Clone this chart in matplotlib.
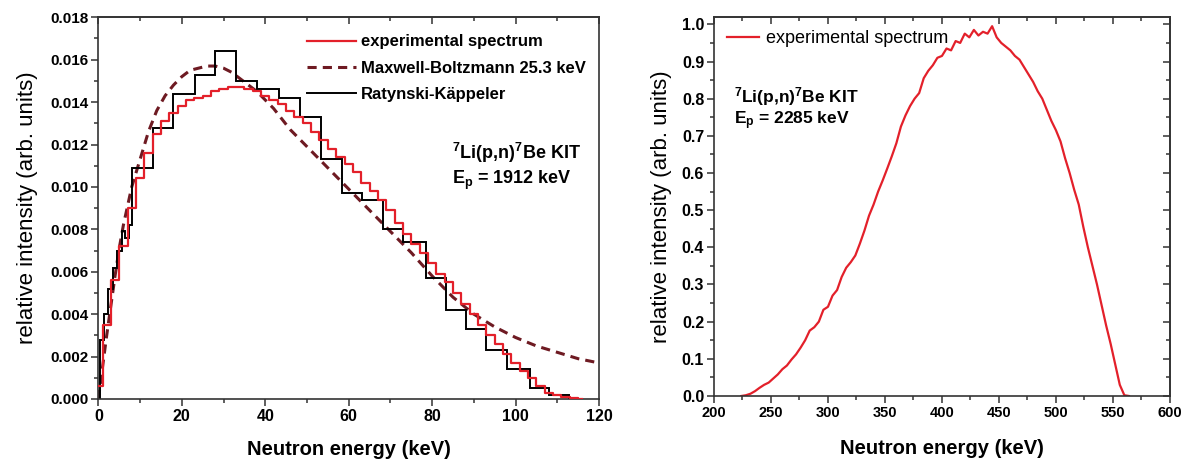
import matplotlib
matplotlib.use("Agg")
from matplotlib import pyplot as plt
from matplotlib.ticker import MultipleLocator, FormatStrFormatter
import matplotlib as mpl

mpl.rc('font', family='Liberation Sans', size=10.5, weight='bold')
mpl.rc('mathtext', fontset='custom', rm='Liberation Sans:bold', bf='Liberation Sans:bold', it='Liberation Sans:bold')
mpl.rc('axes', linewidth=1.2, edgecolor='#333333')

RED = '#e3202a'
DARKRED = '#6e1a22'

# ---- left panel: Ep = 1912 keV ----
exp_E = [0, 2, 4, 6, 8, 10, 12, 14, 16, 18, 20, 22, 24, 26, 28, 30, 32, 34, 36, 38,
         40, 42, 44, 46, 48, 50, 52, 54, 56, 58, 60, 62, 64, 66, 68, 70, 72, 74, 76, 78,
         80, 82, 84, 86, 88, 90, 92, 94, 96, 98, 100, 102, 104, 106, 108, 110, 112, 114, 116]
exp_I = [0.0006, 0.0035, 0.0056, 0.0072, 0.0090, 0.0104, 0.0116, 0.0125, 0.0131, 0.0135,
         0.0138, 0.0141, 0.0142, 0.0143, 0.0145, 0.0146, 0.0147, 0.0147, 0.0146, 0.0145,
         0.0143, 0.0141, 0.0139, 0.0136, 0.0133, 0.0130, 0.0126, 0.0122, 0.0118, 0.0114,
         0.0111, 0.0107, 0.0102, 0.0098, 0.0094, 0.0089, 0.0083, 0.0078, 0.0073, 0.0069,
         0.0064, 0.0059, 0.0055, 0.0050, 0.0045, 0.0040, 0.0035, 0.0030, 0.0026, 0.0021,
         0.0017, 0.0013, 0.0010, 0.0006, 0.0003, 0.0002, 0.0001, 0.00003, 0.0]

mb_E = [0, 1, 2, 3, 4, 5, 6, 7, 8, 10, 12, 14, 16, 18, 20, 22, 24, 26, 28, 30, 32, 34,
        36, 38, 40, 42, 44, 46, 48, 50, 55, 60, 65, 70, 75, 80, 85, 90, 95, 100, 105,
        110, 115, 120]
mb_I = [0.0, 0.0015, 0.0030, 0.0044, 0.0058, 0.0071, 0.0082, 0.0091, 0.0100, 0.0113,
        0.0126, 0.0136, 0.0143, 0.0148, 0.0152, 0.0155, 0.0156, 0.0157, 0.0157, 0.0156,
        0.0154, 0.0151, 0.0148, 0.0145, 0.0141, 0.0137, 0.0132, 0.0127, 0.0123, 0.0119,
        0.0109, 0.0099, 0.0089, 0.0079, 0.0069, 0.0058, 0.0048, 0.0040, 0.0034, 0.0029,
        0.0025, 0.0022, 0.0019, 0.0017]

rk_edges = [0.4, 1.4, 2.4, 3.4, 4.5, 5.6, 6.4, 7.45, 8.0, 13.0, 18.0, 23.2, 28.0, 33.0,
            38.0, 43.2, 48.4, 53.3, 58.4, 63.2, 68.2, 73.1, 78.5, 83.4, 88.1, 92.9,
            97.9, 103.5, 108.1, 112.9]
rk_I = [0.0028, 0.0040, 0.0052, 0.0062, 0.0070, 0.0079, 0.0076, 0.0082, 0.0109, 0.0128,
        0.0144, 0.0153, 0.0164, 0.0150, 0.0146, 0.0142, 0.0133, 0.0113, 0.0097, 0.0094,
        0.0080, 0.0074, 0.0057, 0.0042, 0.0033, 0.0023, 0.0014, 0.0005, 0.0002]

# ---- right panel: Ep = 2285 keV ----
hi_E = [224, 228, 232, 236, 240, 244, 248, 252, 256, 260, 264, 268, 272, 276, 280, 284,
        288, 292, 296, 300, 304, 308, 312, 316, 320, 324, 328, 332, 336, 340, 344, 348,
        352, 356, 360, 364, 368, 372, 376, 380, 384, 388, 392, 396, 400, 404, 408, 412,
        416, 420, 424, 428, 432, 436, 440, 444, 448, 452, 456, 460, 464, 468, 472, 476,
        480, 484, 488, 492, 496, 500, 504, 508, 512, 516, 520, 524, 528, 532, 536, 540,
        544, 548, 552, 556, 560, 564]
hi_I = [0.0, 0.002, 0.006, 0.013, 0.022, 0.030, 0.036, 0.047, 0.058, 0.072, 0.082, 0.098,
        0.112, 0.130, 0.150, 0.176, 0.185, 0.200, 0.232, 0.240, 0.270, 0.285, 0.320, 0.345,
        0.360, 0.378, 0.410, 0.445, 0.485, 0.515, 0.550, 0.580, 0.612, 0.645, 0.680, 0.725,
        0.755, 0.780, 0.800, 0.815, 0.855, 0.875, 0.890, 0.910, 0.915, 0.935, 0.930, 0.955,
        0.950, 0.975, 0.965, 0.985, 0.970, 0.980, 0.975, 0.995, 0.965, 0.950, 0.940, 0.930,
        0.915, 0.905, 0.885, 0.865, 0.845, 0.820, 0.800, 0.770, 0.740, 0.715, 0.685, 0.640,
        0.600, 0.555, 0.515, 0.455, 0.400, 0.350, 0.300, 0.245, 0.190, 0.140, 0.085, 0.030,
        0.002, 0.0]

fig = plt.figure(figsize=(11.85, 4.62), dpi=100)
ax1 = fig.add_axes([0.083, 0.1364, 0.4225, 0.8262])
ax2 = fig.add_axes([0.6025, 0.1429, 0.3848, 0.8197])


def style(ax):
    ax.tick_params(which='both', direction='out', top=False, right=False, width=1.1,
                   color='#333333', pad=2)
    ax.tick_params(which='major', length=5)
    ax.tick_params(which='minor', length=3)
    sec = ax.secondary_xaxis('top')
    sec.tick_params(which='both', direction='in', width=1.1, color='#333333')
    sec.tick_params(which='major', length=5)
    sec.tick_params(which='minor', length=3)
    sec.set_xticklabels([])
    return sec


ax1.step(exp_E, exp_I, where='mid', color=RED, lw=1.6, label='experimental spectrum', zorder=3)
ax1.plot(mb_E, mb_I, color=DARKRED, lw=2.2, ls=(0, (3, 2)), label='Maxwell-Boltzmann 25.3 keV', zorder=2)
ax1.stairs(rk_I, rk_edges, color='black', lw=1.4, baseline=0, label='Ratynski-Käppeler', zorder=2)
ax1.set_xlim(0, 120)
ax1.set_ylim(0, 0.018)
ax1.xaxis.set_major_locator(MultipleLocator(20))
ax1.xaxis.set_minor_locator(MultipleLocator(10))
ax1.yaxis.set_major_locator(MultipleLocator(0.002))
ax1.yaxis.set_minor_locator(MultipleLocator(0.001))
ax1.yaxis.set_major_formatter(FormatStrFormatter('%.3f'))
s1 = style(ax1)
s1.xaxis.set_major_locator(MultipleLocator(20))
s1.xaxis.set_minor_locator(MultipleLocator(10))
ax1.tick_params(axis='x', labelsize=11.5)
ax1.tick_params(axis='y', labelsize=11)
ax1.set_xlabel('Neutron energy (keV)', fontsize=14.5, fontweight='bold', labelpad=12)
ax1.set_ylabel('relative intensity (arb. units)', fontsize=16, fontweight='normal', labelpad=9)
ax1.legend(loc='upper right', bbox_to_anchor=(1.0, 0.99), frameon=False,
           handlelength=2.9, handletextpad=0.3, labelspacing=0.68, borderpad=0.3,
           prop={'weight': 'bold', 'size': 12})
ax1.text(84.8, 0.0116, r'$^{7}$Li(p,n)$^{7}$Be KIT', fontsize=13, fontweight='bold', va='center')
ax1.text(84.8, 0.0103, r'E$_{\mathrm{p}}$ = 1912 keV', fontsize=13, fontweight='bold', va='center')

ax2.plot(hi_E, hi_I, color=RED, lw=1.6, label='experimental spectrum')
ax2.set_xlim(200, 600)
ax2.set_ylim(0, 1.019)
ax2.xaxis.set_major_locator(MultipleLocator(50))
ax2.xaxis.set_minor_locator(MultipleLocator(25))
ax2.yaxis.set_major_locator(MultipleLocator(0.1))
ax2.yaxis.set_minor_locator(MultipleLocator(0.05))
ax2.yaxis.set_major_formatter(FormatStrFormatter('%.1f'))
s2 = style(ax2)
s2.xaxis.set_major_locator(MultipleLocator(50))
s2.xaxis.set_minor_locator(MultipleLocator(25))
ax2.tick_params(axis='x', labelsize=10.5)
ax2.tick_params(axis='y', labelsize=11.5)
sr = ax2.secondary_yaxis('right')
sr.tick_params(which='both', direction='in', width=1.1, color='#333333')
sr.tick_params(which='major', length=5)
sr.tick_params(which='minor', length=3)
sr.yaxis.set_major_locator(MultipleLocator(0.1))
sr.yaxis.set_minor_locator(MultipleLocator(0.05))
sr.set_yticklabels([])
ax2.set_xlabel('Neutron energy (keV)', fontsize=14.5, fontweight='bold', labelpad=14)
ax2.set_ylabel('relative intensity (arb. units)', fontsize=16, fontweight='normal', labelpad=7)
ax2.legend(loc='upper left', bbox_to_anchor=(0.0, 1.0), frameon=False,
           handlelength=1.8, handletextpad=0.4, borderpad=0.2,
           prop={'weight': 'normal', 'size': 13})
ax2.text(218, 0.805, r'$^{7}$Li(p,n)$^{7}$Be KIT', fontsize=12.5, fontweight='bold', va='center')
ax2.text(218, 0.742, r'E$_{\mathrm{p}}$ = 2285 keV', fontsize=12.5, fontweight='bold', va='center')

fig.savefig('out.png', dpi=100)
